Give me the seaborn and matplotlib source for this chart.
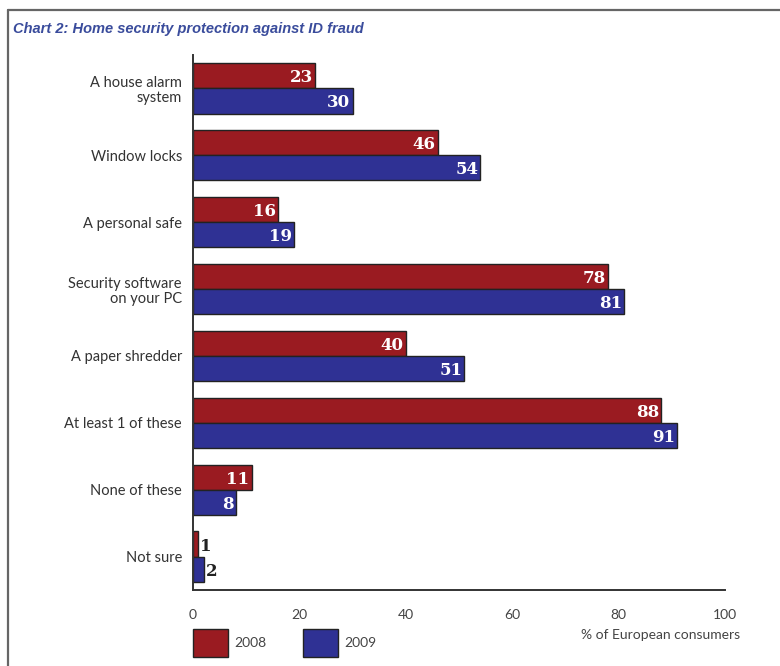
from matplotlib import pyplot as plt
from matplotlib.lines import Line2D
from matplotlib.patches import Patch
import pandas as pd
import seaborn as sns

# Chart data
categories = ["A house alarm\nsystem", "Window locks", "A personal safe",
              "Security software\non your PC", "A paper shredder",
              "At least 1 of these", "None of these", "Not sure"]
years = ["2008", "2009"]
v2008 = [23, 46, 16, 78, 40, 88, 11, 1]
v2009 = [30, 54, 19, 81, 51, 91, 8, 2]
x_ticks = [0, 20, 40, 60, 80, 100]

red = "#9a1b21"
blue = "#2f3194"

df = pd.DataFrame({
    "category": categories * 2,
    "year": [years[0]] * len(categories) + [years[1]] * len(categories),
    "value": v2008 + v2009,
})

sns.set_style("white")
plt.rcParams["font.family"] = ["Lato", "DejaVu Sans"]

fig = plt.figure(figsize=(7.8, 6.66), dpi=100)
ax = fig.add_axes([193 / 780, 76 / 666, 532 / 780, 535 / 666])

sns.barplot(
    data=df, y="category", x="value", hue="year", orient="h",
    palette=[red, blue], saturation=1, edgecolor="#222222", linewidth=1,
    width=0.75, legend=False, ax=ax,
)

# value labels
for cont, vals in zip(ax.containers, [v2008, v2009]):
    for bar, v in zip(cont, vals):
        yc = bar.get_y() + bar.get_height() / 2
        if v >= 5:
            ax.text(v - 0.4, yc + 0.03, str(v), ha="right", va="center",
                    color="white", fontsize=12, fontweight="bold",
                    family="DejaVu Serif")
        else:
            ax.text(v + 0.4, yc + 0.03, str(v), ha="left", va="center",
                    color="#222222", fontsize=12, fontweight="bold",
                    family="DejaVu Serif")

ax.set_xlim(0, 100)
ax.set_ylim(7.5, -0.5)
ax.set_xticks(x_ticks)
ax.set_xlabel("")
ax.set_ylabel("")
sns.despine(ax=ax, top=True, right=True)
for s in ["left", "bottom"]:
    ax.spines[s].set_color("#333333")
    ax.spines[s].set_linewidth(1.4)
ax.tick_params(axis="x", direction="in", length=10, width=1.2, color="#333333",
               labelsize=10, labelcolor="#444444", pad=14)
ax.tick_params(axis="y", length=0, labelsize=10.5, labelcolor="#333333", pad=8)
for lab in ax.get_yticklabels():
    lab.set_linespacing(1.1)

fig.text(740 / 780, 1 - 635 / 666, "% of European consumers", ha="right",
         va="center", fontsize=10, color="#444444")

# legend
handles = [Patch(facecolor=red, edgecolor="#222222"),
           Patch(facecolor=blue, edgecolor="#222222")]
fig.legend(handles, years, loc="upper left",
           bbox_to_anchor=(193 / 780, 1 - 629 / 666), ncol=2, frameon=False,
           handlelength=2.5, handleheight=2.7, handletextpad=0.5,
           columnspacing=2.6, borderpad=0, borderaxespad=0, fontsize=10,
           labelcolor="#444444")

fig.text(13 / 780, 1 - 29 / 666,
         "Chart 2: Home security protection against ID fraud",
         ha="left", va="center", fontsize=10.5, fontweight="bold",
         fontstyle="italic", color="#3a4c9c", family="Liberation Sans")

# outer frame
fig.add_artist(Line2D([8 / 780, 1], [1 - 10 / 666, 1 - 10 / 666],
                      transform=fig.transFigure, color="#666666", lw=1.6))
fig.add_artist(Line2D([8 / 780, 8 / 780], [1 - 10 / 666, 0],
                      transform=fig.transFigure, color="#666666", lw=1.6))

fig.savefig("out.png", dpi=100)
